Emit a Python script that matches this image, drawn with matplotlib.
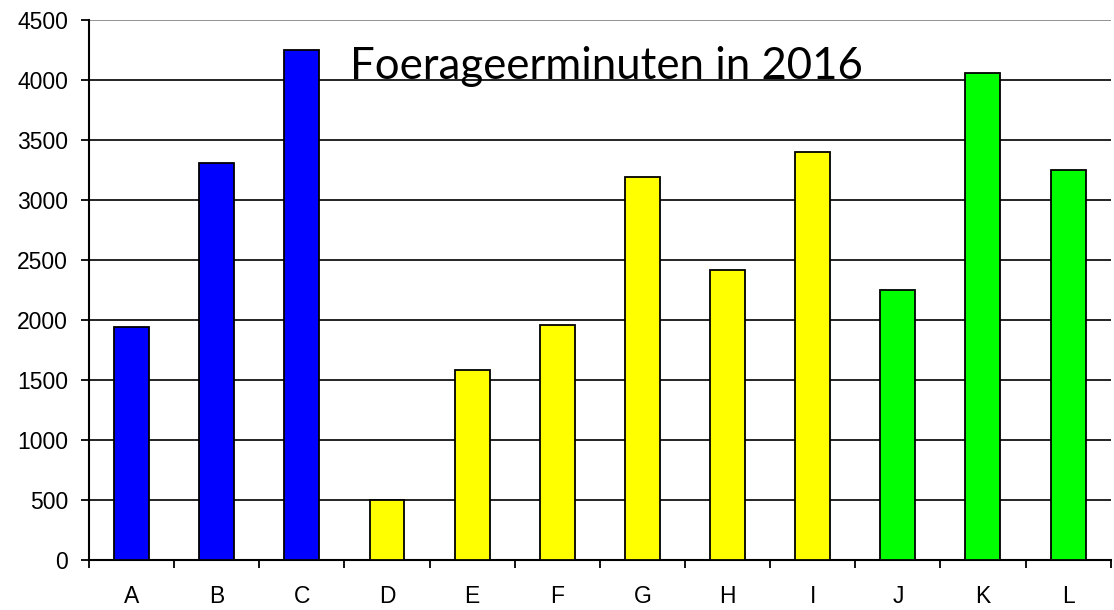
import numpy as np
import matplotlib
matplotlib.use("Agg")
from matplotlib import pyplot as plt

categories = ["A", "B", "C", "D", "E", "F", "G", "H", "I", "J", "K", "L"]
minutes = [1940, 3310, 4250, 500, 1580, 1960, 3190, 2420, 3400, 2250, 4060, 3250]
colors = ["#0000FF"] * 3 + ["#FFFF00"] * 6 + ["#00FF00"] * 3
title = "Foerageerminuten in 2016"

plt.rcParams['font.family'] = ['Liberation Sans', 'DejaVu Sans']

fig = plt.figure(figsize=(11.14, 6.10), dpi=100)
ax = fig.add_axes([0.0799, 0.082, 0.9171, 0.885])

x = np.arange(len(categories))
ax.bar(x, minutes, width=0.41, color=colors, edgecolor="black", linewidth=1.3, zorder=3)

ax.set_xlim(-0.5, len(categories) - 0.5)
ax.set_ylim(0, 4500)
ax.set_yticks(np.arange(0, 4501, 500))
ax.grid(axis="y", color="black", linewidth=1.2, zorder=0)

ax.set_xticks(np.arange(-0.5, len(categories), 1.0))
ax.set_xticklabels([])
ax.set_xticks(x, minor=True)
ax.set_xticklabels(categories, minor=True)
ax.tick_params(axis="x", which="major", length=6, width=1.3, direction="out")
ax.tick_params(axis="x", which="minor", length=0, pad=18, labelsize=16.5)
ax.tick_params(axis="y", length=6, width=1.3, direction="out", pad=9, labelsize=16.5)

for s in ["top", "right"]:
    ax.spines[s].set_visible(False)
ax.spines["left"].set_linewidth(1.5)
ax.spines["bottom"].set_linewidth(1.5)
ax.get_ygridlines()[-1].set_color("#808080")

ax.text(0.506, 0.891, title, transform=ax.transAxes, ha="center", va="baseline",
        fontsize=31.5, family=["Lato", "DejaVu Sans"], zorder=4)

fig.savefig("out.png", dpi=100)
